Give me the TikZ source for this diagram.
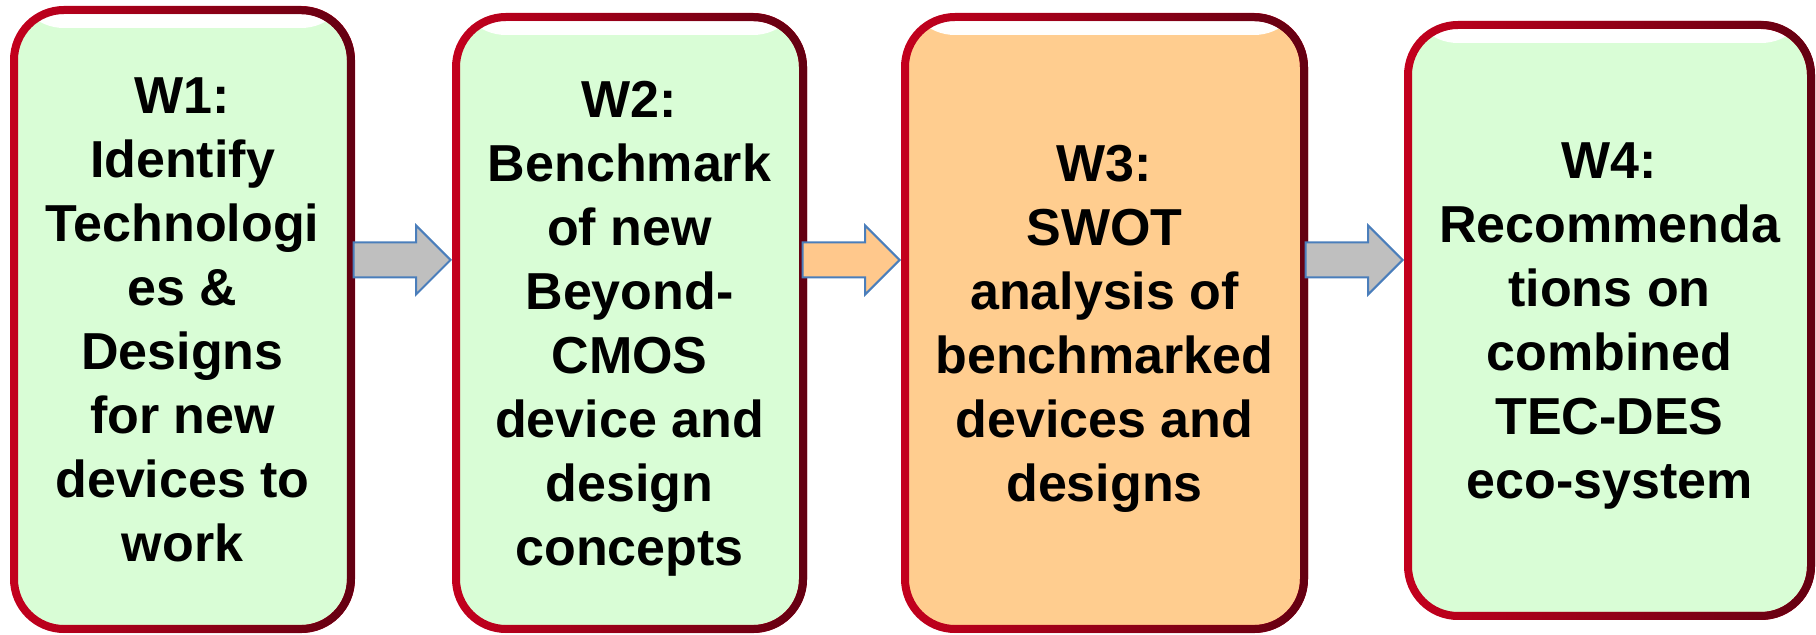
\documentclass[tikz,border=0pt]{standalone}
\usepackage{fontspec}
\setmainfont{Liberation Sans}
\usetikzlibrary{shapes.arrows,fadings}

\definecolor{wgreen}{RGB}{217,253,214}
\definecolor{worange}{RGB}{255,205,143}
\definecolor{wborder}{RGB}{196,0,30}
\definecolor{wdark}{RGB}{100,0,18}
\definecolor{agray}{RGB}{191,191,191}
\definecolor{aorange}{RGB}{255,200,140}
\definecolor{ablue}{RGB}{74,126,187}

\begin{document}
\begin{tikzpicture}[
x=0.5pt,
y=-0.5pt,
wbox/.style={
  draw=wborder,
  fill=#1,
  line width=4pt,
  rounded corners=25pt,
  align=center,
  inner sep=0pt,
  text depth=-1.5pt,
  font=\fontsize{26}{32}\selectfont\bfseries,
  path picture={
    \shade[top color=white, bottom color=#1]
      (path picture bounding box.north west)
      rectangle ([yshift=-9pt]path picture bounding box.north east);
    },
  postaction={draw=wdark, line width=4pt, path fading=west}
  },
blockarr/.style={
  single arrow,
  draw=ablue,
  fill=#1,
  line width=1pt,
  inner sep=0pt,
  inner ysep=8.25pt,
  minimum width=0pt,
  minimum height=48.5pt,
  single arrow head extend=8.5pt,
  single arrow tip angle=90,
  single arrow head indent=0pt
  }
]
\useasboundingbox (0,0) rectangle (1816,635);

% work packages
\node[wbox=wgreen, minimum width=168.5pt, minimum height=309.5pt]
  (w1) at (182.5,319.5)
  {W1:\\Identify\\Technologi\\es \&\\Designs\\for new\\devices to\\work};
\node[wbox=wgreen, minimum width=173.5pt, minimum height=306pt]
  (w2) at (629.5,323)
  {W2:\\Benchmark\\of new\\Beyond-\\CMOS\\device and\\design\\concepts};
\node[wbox=worange, minimum width=199.5pt, minimum height=306pt]
  (w3) at (1104.5,323)
  {W3:\\SWOT\\analysis of\\benchmarked\\devices and\\designs};
\node[wbox=wgreen, minimum width=201.5pt, minimum height=295.5pt]
  (w4) at (1609.5,320.5)
  {W4:\\Recommenda\\tions on\\combined\\TEC-DES\\eco-system};

% arrows between them
\coordinate (ay) at (0,260);
\node[blockarr=agray, anchor=tip] (a12) at (w2.west |- ay) {};
\node[blockarr=aorange, anchor=tip] (a23) at (w3.west |- ay) {};
\node[blockarr=agray, anchor=tip] (a34) at (w4.west |- ay) {};
\end{tikzpicture}
\end{document}
